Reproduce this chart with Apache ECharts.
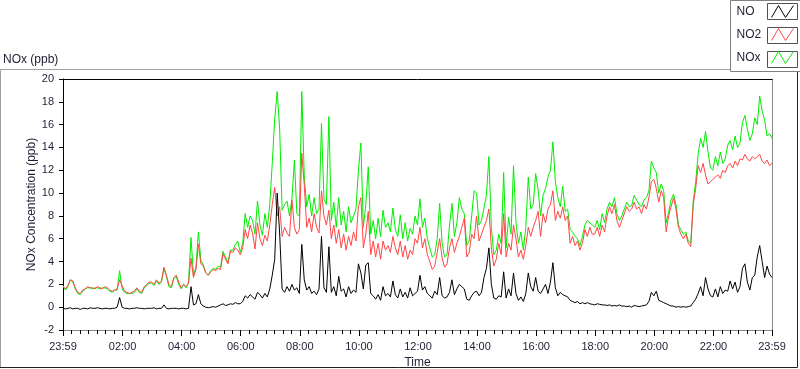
<!DOCTYPE html>
<html><head><meta charset="utf-8">
<script src="https://cdn.jsdelivr.net/npm/echarts@6/dist/echarts.min.js"></script>
<style>html,body{margin:0;padding:0;background:#fff}#c{width:800px;height:369px}</style>
</head><body><div id="c"></div>
<script>
// ---- data (5-minute samples starting at 23:59) ----
const stepMinutes = 5;
const tickMinutes = [0,121,241,361,481,601,721,841,961,1081,1201,1321,1440];
const tickLabels = ['23:59','02:00','04:00','06:00','08:00','10:00','12:00','14:00','16:00','18:00','20:00','22:00','23:59'];
const seriesNames = ['NO','NO2','NOx'];

const noValues = [
-0.1,-0.15,-0.1,-0.05,-0.15,-0.1,-0.1,-0.2,-0.1,-0.1,-0.15,-0.05,
-0.1,-0.1,-0.05,-0.1,-0.15,-0.1,-0.1,-0.15,-0.1,-0.1,0.0,0.85,
0.0,-0.1,-0.1,-0.15,-0.1,-0.1,-0.05,-0.1,-0.1,-0.15,-0.1,-0.1,
-0.1,-0.05,-0.15,-0.1,-0.1,0.2,-0.1,-0.15,-0.1,-0.1,-0.1,-0.15,
-0.1,-0.1,-0.15,-0.1,1.8,0.2,0.3,1.1,0.3,0.1,0.0,-0.05,
0.0,0.05,0.0,0.1,0.2,0.3,0.15,0.2,0.3,0.25,0.4,0.3,
0.3,0.5,1.0,0.8,1.1,0.9,0.7,1.3,1.1,0.8,1.2,0.9,
1.6,2.8,4.2,10.0,6.5,1.6,1.3,1.8,1.4,2.0,1.5,1.7,
1.2,5.5,2.4,1.5,1.8,1.2,1.4,1.1,1.6,6.2,1.7,1.3,
5.3,1.3,1.8,1.0,2.7,1.4,1.6,0.9,1.8,1.2,1.5,1.3,
3.8,3.0,1.6,3.7,3.9,1.2,1.0,0.7,1.1,0.6,1.8,1.0,
1.2,0.9,2.3,1.1,0.8,1.6,0.9,1.3,0.8,1.7,1.0,1.2,
1.4,2.8,1.5,1.8,1.2,1.0,0.8,1.4,1.1,2.6,1.0,0.8,
0.9,1.3,2.4,1.1,1.6,2.0,1.8,1.6,0.7,0.6,1.0,1.3,
1.4,1.0,1.3,2.6,3.4,5.2,2.0,0.8,0.7,1.0,0.9,3.1,
0.8,1.6,1.0,3.0,1.2,0.6,0.9,0.5,1.2,3.0,1.8,1.4,
2.6,1.4,1.2,1.6,2.0,1.2,2.2,3.9,1.7,1.0,1.3,1.1,
1.0,0.9,0.6,0.5,0.4,0.5,0.3,0.4,0.3,0.4,0.3,0.25,
0.2,0.3,0.25,0.2,0.2,0.15,0.2,0.1,0.15,0.1,0.2,0.1,
0.1,0.05,0.1,0.0,0.15,0.1,0.05,0.1,0.15,0.2,0.5,1.3,
1.0,1.4,0.6,0.5,0.4,0.3,0.2,0.1,0.1,0.0,0.05,0.0,
0.05,0.0,0.05,0.1,0.4,0.7,1.2,1.8,1.0,2.6,1.6,1.0,
0.9,1.6,0.9,1.8,1.2,1.5,1.4,2.3,1.6,2.2,1.3,1.8,
3.4,3.8,2.2,1.5,2.6,2.8,4.4,5.4,4.0,2.6,3.6,2.9,2.6
];

const no2Values = [
1.8,1.6,1.9,2.4,2.3,1.7,1.3,1.2,1.5,1.6,1.8,1.7,
1.7,1.6,1.8,1.7,1.6,1.8,1.7,1.5,1.4,1.5,1.6,2.4,
1.9,1.4,1.3,1.2,1.3,1.4,1.7,1.4,1.3,1.8,2.0,2.2,
2.2,2.0,2.4,2.1,2.3,3.5,2.8,2.0,1.8,2.6,2.8,2.2,
1.7,2.0,1.8,2.1,4.3,2.6,3.3,5.5,3.8,3.6,3.0,2.8,
3.1,3.3,3.2,3.4,3.3,4.7,4.2,3.8,4.9,4.8,5.2,5.0,
4.6,5.2,6.8,6.0,7.2,6.5,5.1,7.4,6.0,5.4,6.3,5.8,
7.2,9.0,10.5,8.0,8.8,6.2,7.0,6.5,6.2,9.4,7.0,6.4,
6.8,13.5,10.7,7.0,7.8,6.6,8.2,7.0,6.5,10.2,8.0,7.2,
8.5,6.0,7.2,5.6,6.8,5.2,6.4,5.0,6.2,5.4,6.6,5.8,
8.8,9.6,5.2,6.4,8.4,4.6,5.8,4.4,5.6,4.2,5.8,5.0,
5.4,4.8,6.2,5.2,4.6,5.8,4.4,5.4,4.2,5.0,4.6,6.0,
5.6,7.0,5.2,6.0,4.6,4.0,3.3,3.6,4.8,6.0,4.3,3.5,
3.8,5.2,6.0,4.8,5.6,6.2,7.0,7.8,4.4,4.8,6.4,6.0,
8.0,5.8,6.4,7.0,7.6,8.6,5.2,3.6,4.2,5.6,4.6,8.2,
4.4,5.6,5.0,7.2,6.0,4.4,5.0,4.2,5.4,7.0,6.2,7.0,
7.6,8.4,6.2,8.2,7.4,8.6,9.0,10.2,7.6,8.4,7.8,8.8,
7.6,8.0,5.6,6.2,5.4,5.8,5.0,5.6,6.8,6.2,7.0,6.4,
6.4,7.0,6.2,7.2,6.6,8.0,8.8,8.2,9.0,7.6,7.0,7.6,
8.2,8.8,8.4,8.6,9.2,8.6,8.8,8.2,9.0,8.6,9.6,11.0,
11.2,10.4,9.2,10.2,9.6,6.6,8.0,8.8,9.6,8.6,7.0,6.4,
6.0,6.4,5.6,5.3,9.0,10.4,12.4,11.8,12.6,11.6,10.8,11.0,
11.2,11.4,11.6,11.3,12.0,11.8,12.4,12.6,12.2,12.8,12.4,13.0,
12.9,13.4,13.0,12.8,13.2,13.0,13.2,13.4,12.8,12.6,12.9,12.4,12.6
];

const noxValues = [
1.9,1.5,1.8,2.4,2.2,1.6,1.2,1.1,1.4,1.6,1.7,1.7,
1.6,1.7,1.7,1.6,1.7,1.7,1.6,1.4,1.3,1.5,1.5,3.2,
1.6,1.3,1.2,1.2,1.2,1.3,1.6,1.3,1.2,1.7,1.9,2.1,
2.1,1.9,2.3,2.0,2.2,3.4,2.7,1.8,1.7,2.5,2.7,2.0,
1.6,2.0,1.7,2.2,6.1,2.8,3.5,6.6,4.1,3.7,3.0,2.8,
3.2,3.4,3.3,3.6,3.5,4.9,4.4,3.9,5.0,5.0,5.5,5.8,
4.8,5.6,8.2,7.0,8.0,7.6,6.4,9.3,7.2,6.3,8.2,7.0,
9.0,12.6,16.5,18.9,15.7,8.5,9.0,9.3,8.0,9.5,12.9,8.2,
8.0,18.9,11.5,8.8,9.9,8.0,9.6,8.2,8.6,16.1,9.5,9.0,
16.7,7.6,9.2,7.0,9.6,7.2,8.4,6.6,8.8,7.4,8.0,8.6,
12.0,14.4,7.0,9.0,12.3,6.4,7.6,6.0,7.8,6.2,8.5,7.0,
7.4,6.6,8.7,6.8,6.2,8.1,6.0,7.4,5.8,6.9,6.4,8.0,
7.2,9.5,7.0,7.8,6.0,5.2,4.4,4.6,6.0,9.1,5.6,4.4,
4.6,7.2,9.1,6.2,7.4,9.6,8.6,8.2,5.4,5.8,8.0,10.2,
10.0,7.2,7.6,8.7,9.8,13.2,7.0,4.6,5.0,6.4,5.6,11.8,
5.2,7.9,6.4,12.4,7.4,5.6,6.6,5.0,7.0,11.4,8.6,9.0,
11.7,10.3,8.0,9.8,10.4,11.4,12.0,14.5,11.0,9.6,8.8,10.6,
8.4,8.6,6.8,6.6,6.2,6.0,5.4,6.2,7.2,7.6,7.4,7.2,
7.0,7.6,6.8,8.2,7.4,8.6,9.2,8.8,9.6,8.2,7.6,8.0,
8.6,9.2,8.8,8.9,9.8,9.4,9.0,8.8,9.4,9.6,10.2,12.8,
12.2,11.8,10.0,10.8,10.2,7.4,8.3,9.4,9.9,9.0,7.2,6.8,
6.4,6.6,5.8,5.6,9.3,11.0,13.4,14.8,14.0,15.4,13.6,12.2,
12.0,13.2,12.4,13.6,12.6,13.0,14.2,14.6,13.8,15.0,14.0,14.4,
16.2,16.8,15.6,14.6,15.2,16.6,16.0,18.5,17.2,16.4,15.0,15.2,14.8
];

// ---- styling ----
const FONT = '"Liberation Sans", Arial, sans-serif';
const TXT = '#1e1e34';
const COLORS = {NO:'#000000', NO2:'#ff4646', NOx:'#00ee00'};

const toPairs = vals => vals.map((v, i) => [i * stepMinutes, v]);

// minor ticks: 7 subdivisions between labelled ticks
const minorTicks = [];
for (let k = 0; k < tickMinutes.length - 1; k++) {
  const a = tickMinutes[k], b = tickMinutes[k + 1];
  for (let j = 1; j < 7; j++) minorTicks.push(a + (b - a) * j / 7);
}

const ZIG = 'path://M0,11 L7,1 L14,11 L22,1';

const chart = echarts.init(document.getElementById('c'), null, {renderer: 'canvas'});
chart.setOption({
  animation: false,
  backgroundColor: '#ffffff',
  title: {
    text: 'NOx (ppb)', left: 3, top: 54, padding: 0,
    textStyle: {fontFamily: FONT, fontSize: 12, fontWeight: 'normal', color: TXT}
  },
  legend: {
    orient: 'vertical', right: 6, top: 5, padding: 0, align: 'right',
    itemWidth: 22, itemHeight: 12, itemGap: 10, symbolKeepAspect: false,
    formatter: name => '{t|' + name + '}',
    textStyle: {
      fontFamily: FONT, fontSize: 12, color: TXT,
      rich: {t: {width: 30, align: 'left', fontFamily: FONT, fontSize: 12, color: TXT}}
    },
    data: seriesNames.map(n => ({
      name: n, icon: ZIG,
      itemStyle: {color: 'rgba(0,0,0,0)', borderColor: COLORS[n], borderWidth: 1}
    }))
  },
  graphic: [
    {type: 'polyline', shape: {points: [[0.5, 368], [0.5, 69.5], [731, 69.5]]}, style: {stroke: '#a0a0a0', fill: null, lineWidth: 1}, silent: true},
    {type: 'polyline', shape: {points: [[0, 367.5], [797.5, 367.5], [797.5, 72]]}, style: {stroke: '#202020', fill: null, lineWidth: 1}, silent: true},
    {type: 'rect', shape: {x: 730.5, y: 0.5, width: 75, height: 71}, style: {stroke: '#808080', fill: '#ffffff', lineWidth: 1}, silent: true},
    {type: 'rect', shape: {x: 767.5, y: 3.5, width: 30, height: 16}, style: {stroke: '#505050', fill: '#ffffff', lineWidth: 1}, silent: true},
    {type: 'rect', shape: {x: 767.5, y: 27.5, width: 30, height: 16}, style: {stroke: '#505050', fill: '#ffffff', lineWidth: 1}, silent: true},
    {type: 'rect', shape: {x: 767.5, y: 51.5, width: 30, height: 16}, style: {stroke: '#505050', fill: '#ffffff', lineWidth: 1}, silent: true}
  ],
  grid: {left: 63, right: 28, top: 79, bottom: 39, containLabel: false, outerBoundsMode: 'none'},
  xAxis: [
    {
      type: 'value', min: 0, max: 1440, position: 'bottom',
      axisLine: {show: true, onZero: false, lineStyle: {color: '#8a8a8a', width: 1}},
      axisTick: {show: true, length: 6, customValues: tickMinutes, lineStyle: {color: '#000'}},
      axisLabel: {
        customValues: tickMinutes, margin: 11, fontFamily: FONT, fontSize: 11, color: TXT,
        formatter: v => { const i = tickMinutes.indexOf(v); return i >= 0 ? tickLabels[i] : ''; }
      },
      splitLine: {show: false},
      name: 'Time', nameLocation: 'middle', nameGap: 27, nameMoveOverlap: false,
      nameTextStyle: {fontFamily: FONT, fontSize: 12, color: TXT}
    },
    {
      type: 'value', min: 0, max: 1440, position: 'bottom',
      axisLine: {show: false, onZero: false},
      axisTick: {show: true, length: 4, customValues: minorTicks, lineStyle: {color: '#000'}},
      axisLabel: {show: false}, splitLine: {show: false}
    },
    {
      type: 'value', min: 0, max: 1440, position: 'top',
      axisLine: {show: true, onZero: false, lineStyle: {color: '#000'}},
      axisTick: {show: false}, axisLabel: {show: false}, splitLine: {show: false}
    }
  ],
  yAxis: [
    {
      type: 'value', min: -2, max: 20, interval: 2, position: 'left',
      axisLine: {show: true, onZero: false, lineStyle: {color: '#000'}},
      axisTick: {show: true, length: 4, lineStyle: {color: '#000'}},
      axisLabel: {margin: 9, fontFamily: FONT, fontSize: 11, color: TXT},
      splitLine: {show: false},
      name: 'NOx Concentration (ppb)', nameLocation: 'middle', nameGap: 25, nameMoveOverlap: false,
      nameTextStyle: {fontFamily: FONT, fontSize: 12, color: TXT}
    },
    {
      type: 'value', min: -2, max: 20, interval: 2, position: 'right',
      axisLine: {show: true, onZero: false, lineStyle: {color: '#8a8a8a'}},
      axisTick: {show: false}, axisLabel: {show: false}, splitLine: {show: false}
    }
  ],
  series: [
    {name: 'NOx', type: 'line', data: toPairs(noxValues), showSymbol: false, symbol: 'none',
     lineStyle: {color: COLORS.NOx, width: 1}, itemStyle: {color: COLORS.NOx}, z: 2},
    {name: 'NO2', type: 'line', data: toPairs(no2Values), showSymbol: false, symbol: 'none',
     lineStyle: {color: COLORS.NO2, width: 1}, itemStyle: {color: COLORS.NO2}, z: 3},
    {name: 'NO', type: 'line', data: toPairs(noValues), showSymbol: false, symbol: 'none',
     lineStyle: {color: COLORS.NO, width: 1}, itemStyle: {color: COLORS.NO}, z: 4}
  ]
});
</script>
</body></html>
